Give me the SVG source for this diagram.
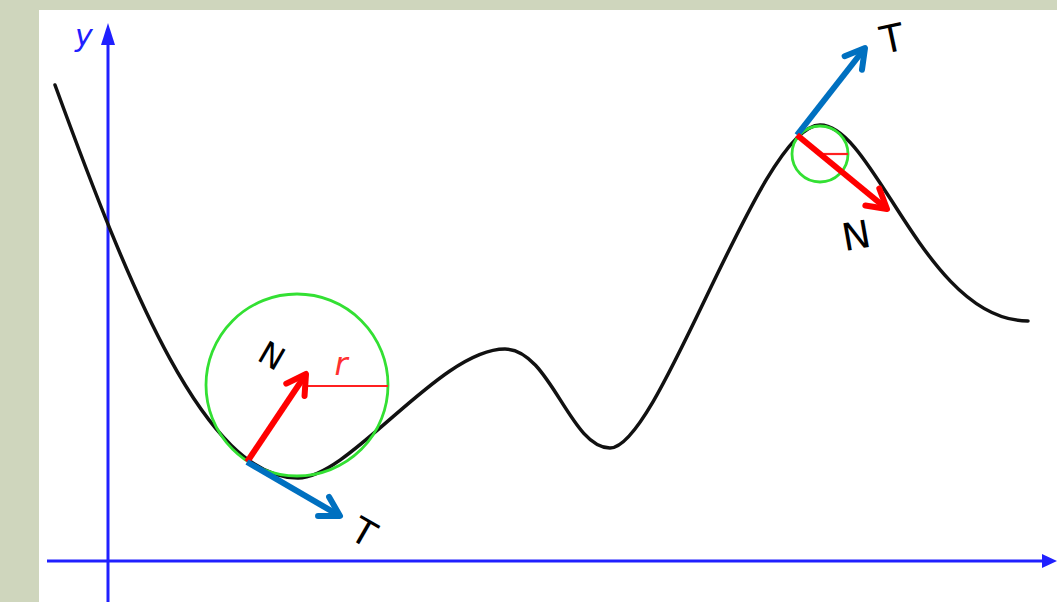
<svg xmlns="http://www.w3.org/2000/svg" width="1057" height="602" viewBox="0 0 1057 602">
<style>
.axis{stroke:#2020ff;stroke-width:3;fill:none}
.axhead{fill:#2020ff}
.curve{stroke:#111;stroke-width:3.5;fill:none;stroke-linecap:round}
.osc{stroke:#33e033;stroke-width:2.8;fill:none}
.rad{stroke:#ff2020;stroke-width:2.2}
.nvec{stroke:#ff0000;stroke-width:6;fill:none}
.tvec{stroke:#0070c0;stroke-width:6;fill:none}
.lbl{font-family:"DejaVu Sans","Liberation Sans",sans-serif;fill:#000;text-anchor:middle}
.ital{font-style:italic}
</style>
<defs>
<marker id="headN" markerUnits="userSpaceOnUse" orient="auto" refX="0" refY="0" markerWidth="40" markerHeight="40" viewBox="-25 -20 30 40" overflow="visible">
<path d="M-19,-11 L0,0 L-19,11" fill="none" stroke="#ff0000" stroke-width="6" stroke-linecap="round" stroke-linejoin="round"/>
</marker>
<marker id="headT" markerUnits="userSpaceOnUse" orient="auto" refX="0" refY="0" markerWidth="40" markerHeight="40" viewBox="-25 -20 30 40" overflow="visible">
<path d="M-19,-11 L0,0 L-19,11" fill="none" stroke="#0070c0" stroke-width="6" stroke-linecap="round" stroke-linejoin="round"/>
</marker>
</defs>
<rect x="0" y="0" width="1057" height="602" fill="#cfd6bd"/>
<rect x="39" y="10" width="1018" height="592" fill="#ffffff"/>
<g id="axes">
<line class="axis" x1="108" y1="602" x2="108" y2="40"/>
<polygon class="axhead" points="108,23 101,45 115,45"/>
<line class="axis" x1="47" y1="561" x2="1045" y2="561"/>
<polygon class="axhead" points="1057,561 1042,554 1042,568"/>
<text class="lbl ital" x="84" y="46" font-size="30" style="fill:#2020ff">y</text>
</g>
<g id="curve">
<path class="curve" d="M55,85 C130,290 205,478 298,478 C350,478 440,349 505,349 C550,349 570,448 610,448 C660,448 760,125 820,125 C875,125 925,321 1028,321"/>
</g>
<g id="circle-big">
<circle class="osc" cx="297" cy="385" r="91"/>
<line class="rad" x1="305" y1="386" x2="388" y2="386"/>
<text class="lbl ital" x="341" y="375" font-size="32" style="fill:#ff3030">r</text>
</g>
<g id="circle-small">
<circle class="osc" cx="820" cy="154" r="28"/>
<line class="rad" x1="823" y1="154" x2="848" y2="154"/>
</g>
<g id="connectors">
<line class="nvec" x1="247" y1="462" x2="306" y2="374" marker-end="url(#headN)"/>
<line class="tvec" x1="247" y1="462" x2="340" y2="516" marker-end="url(#headT)"/>
<line class="tvec" x1="797" y1="135" x2="865" y2="48" marker-end="url(#headT)"/>
<line class="nvec" x1="797" y1="135" x2="887" y2="209" marker-end="url(#headN)"/>
</g>
<g id="label-N1"><text class="lbl" transform="translate(272,355) rotate(30)" x="0" y="12" font-size="32">N</text></g>
<g id="label-T1"><text class="lbl" transform="translate(364,532) rotate(30)" x="0" y="13" font-size="36">T</text></g>
<g id="label-T2"><text class="lbl" transform="translate(892,38) rotate(-12)" x="0" y="14" font-size="38">T</text></g>
<g id="label-N2"><text class="lbl" transform="translate(856,235) rotate(-10)" x="0" y="14" font-size="38">N</text></g>
</svg>
